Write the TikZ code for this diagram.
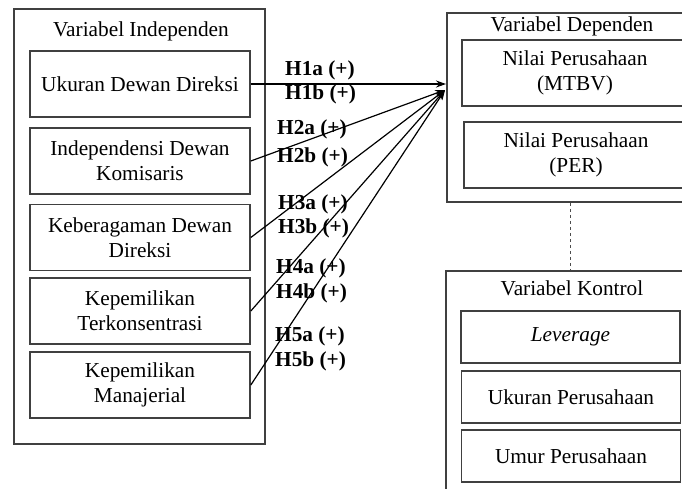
\documentclass[tikz,border=0pt]{standalone}
\usepackage{fontspec}
\setmainfont{Liberation Serif}
\usetikzlibrary{arrows.meta}
\begin{document}
\begin{tikzpicture}[x=1pt,y=-1pt,
  boxline/.style={draw=black!75,line width=1.6pt},
  txt/.style={font=\fontsize{21.3}{25}\selectfont},
  inner/.style={boxline,txt,minimum width=220pt,minimum height=66pt,align=center,inner sep=0pt},
  kbox/.style={boxline,txt,minimum width=219pt,minimum height=52pt,align=center,inner sep=0pt},
  ttl/.style={txt,inner sep=0pt},
  hlab/.style={font=\bfseries\fontsize{21.3}{25}\selectfont,inner sep=0pt,anchor=west},
  arr/.style={line width=1.2pt,-{Stealth[length=10pt,width=7pt]}}]
\useasboundingbox (0,0) rectangle (682,488);
\clip (0,0) rectangle (682,488);
\fill[white] (0,0) rectangle (682,488);
% independent
\node[boxline,minimum width=251pt,minimum height=435pt,inner sep=0pt] (ind) at (139.5,226.5) {};
\node[ttl] (indt) at (141,31) {Variabel Independen};
\node[inner] (b1) at (140,84) {Ukuran Dewan Direksi};
\node[inner] (b2) at (140,161) {Independensi Dewan\\Komisaris};
\node[inner] (b3) at (140,237.5) {Keberagaman Dewan\\Direksi};
\node[inner] (b4) at (140,311) {Kepemilikan\\Terkonsentrasi};
\node[inner] (b5) at (140,385) {Kepemilikan\\Manajerial};
% dependent
\node[boxline,minimum width=246pt,minimum height=189pt,inner sep=0pt] (dep) at (570,107.5) {};
\node[ttl] (dept) at (572,26) {Variabel Dependen};
\node[boxline,txt,minimum width=226pt,minimum height=66pt,align=center,inner sep=0pt] (d1) at (575,73) {Nilai Perusahaan\\(MTBV)};
\node[boxline,txt,minimum width=224pt,minimum height=66pt,align=center,inner sep=0pt] (d2) at (576,155) {Nilai Perusahaan\\(PER)};
% control
\node[boxline,minimum width=248pt,minimum height=229pt,inner sep=0pt] (kon) at (570,385.5) {};
\node[ttl] (kont) at (572,288) {Variabel Kontrol};
\node[kbox] (k1) at (570.5,337) {\itshape Leverage};
\node[kbox] (k2) at (571,397) {Ukuran Perusahaan};
\node[kbox] (k3) at (571,456) {Umur Perusahaan};
\draw[dashed,line width=0.8pt,black!70] (dep.south) -- (kon.north);
% arrows
\coordinate (t1) at (446,84);
\coordinate (t2) at (445,90);
\draw[arr] (b1.east) -- (t1);
\draw[arr] (b2.east) -- (t2);
\draw[arr] (b3.east) -- (t2);
\draw[arr] (b4.east) -- (t2);
\draw[arr] (b5.east) -- (t2);
% labels
\node[hlab] (l1a) at (285,70) {H1a (+)};
\node[hlab] (l1b) at (285,94) {H1b (+)};
\node[hlab] (l2a) at (277,129) {H2a (+)};
\node[hlab] (l2b) at (277,157) {H2b (+)};
\node[hlab] (l3a) at (278,204) {H3a (+)};
\node[hlab] (l3b) at (278,228) {H3b (+)};
\node[hlab] (l4a) at (276,268) {H4a (+)};
\node[hlab] (l4b) at (276,293) {H4b (+)};
\node[hlab] (l5a) at (275,336) {H5a (+)};
\node[hlab] (l5b) at (275,361) {H5b (+)};
\end{tikzpicture}
\end{document}
